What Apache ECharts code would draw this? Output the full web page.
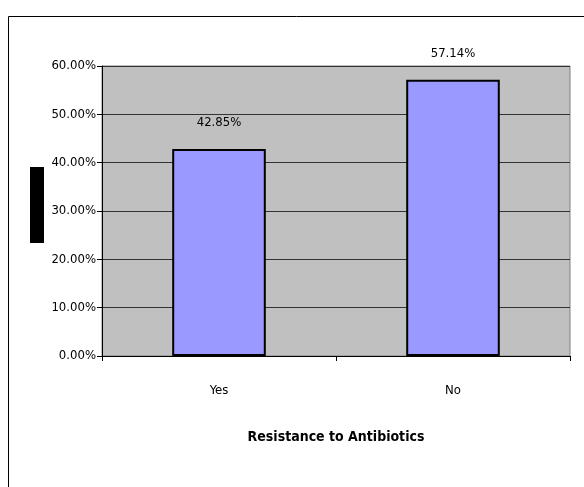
<!DOCTYPE html>
<html>
<head>
<meta charset="utf-8">
<script src="https://cdn.jsdelivr.net/npm/echarts@6/dist/echarts.min.js"></script>
<style>
  html, body { margin: 0; padding: 0; background: #fff; }
  #chart { width: 584px; height: 487px; }
</style>
</head>
<body>
<div id="chart"></div>
<script>
const categories = ["Yes", "No"];
const values = [42.85, 57.14];
const valueLabels = ["42.85%", "57.14%"];

const chart = echarts.init(document.getElementById("chart"), null, { renderer: "canvas" });
const font = "'DejaVu Sans Condensed', 'Liberation Sans', Arial, sans-serif";

chart.setOption({
  animation: false,
  backgroundColor: "#fff",
  grid: { left: 102, right: 14, top: 66, bottom: 131, backgroundColor: "#c0c0c0", show: true, borderColor: "#808080", borderWidth: 1 },
  xAxis: {
    type: "category",
    data: categories,
    name: "Resistance to Antibiotics",
    nameLocation: "middle",
    nameGap: 74,
    nameTextStyle: { fontFamily: font, fontSize: 14, fontWeight: "bold", color: "#000", verticalAlign: "top" },
    axisLine: { lineStyle: { color: "#000", width: 1 } },
    axisTick: { show: true, length: 5, lineStyle: { color: "#000" } },
    axisLabel: { fontFamily: font, fontSize: 13, color: "#000", margin: 28 },
  },
  yAxis: {
    type: "value",
    min: 0,
    max: 60,
    interval: 10,
    axisLine: { show: true, lineStyle: { color: "#000", width: 1 } },
    axisTick: { show: true, length: 5, lineStyle: { color: "#000" } },
    axisLabel: { fontFamily: font, fontSize: 13, color: "#000", margin: 6, formatter: (v) => v.toFixed(2) + "%" },
    splitLine: { lineStyle: { color: "#333", width: 1 } },
  },
  series: [{
    type: "bar",
    data: values,
    barWidth: "40%",
    itemStyle: { color: "#9999ff", borderColor: "#000", borderWidth: 2 },
    label: {
      show: true,
      position: "top",
      distance: 20,
      fontFamily: font,
      fontSize: 13,
      color: "#000",
      formatter: (p) => valueLabels[p.dataIndex],
    },
  }],
  graphic: [
    { type: "rect", left: 6, top: 14, shape: { width: 600, height: 500 }, style: { fill: "none", stroke: "#000", lineWidth: 1 }, silent: true },
    { type: "rect", left: 30, top: 167, shape: { width: 14, height: 76 }, style: { fill: "#000" }, silent: true },
  ],
});
</script>
</body>
</html>
